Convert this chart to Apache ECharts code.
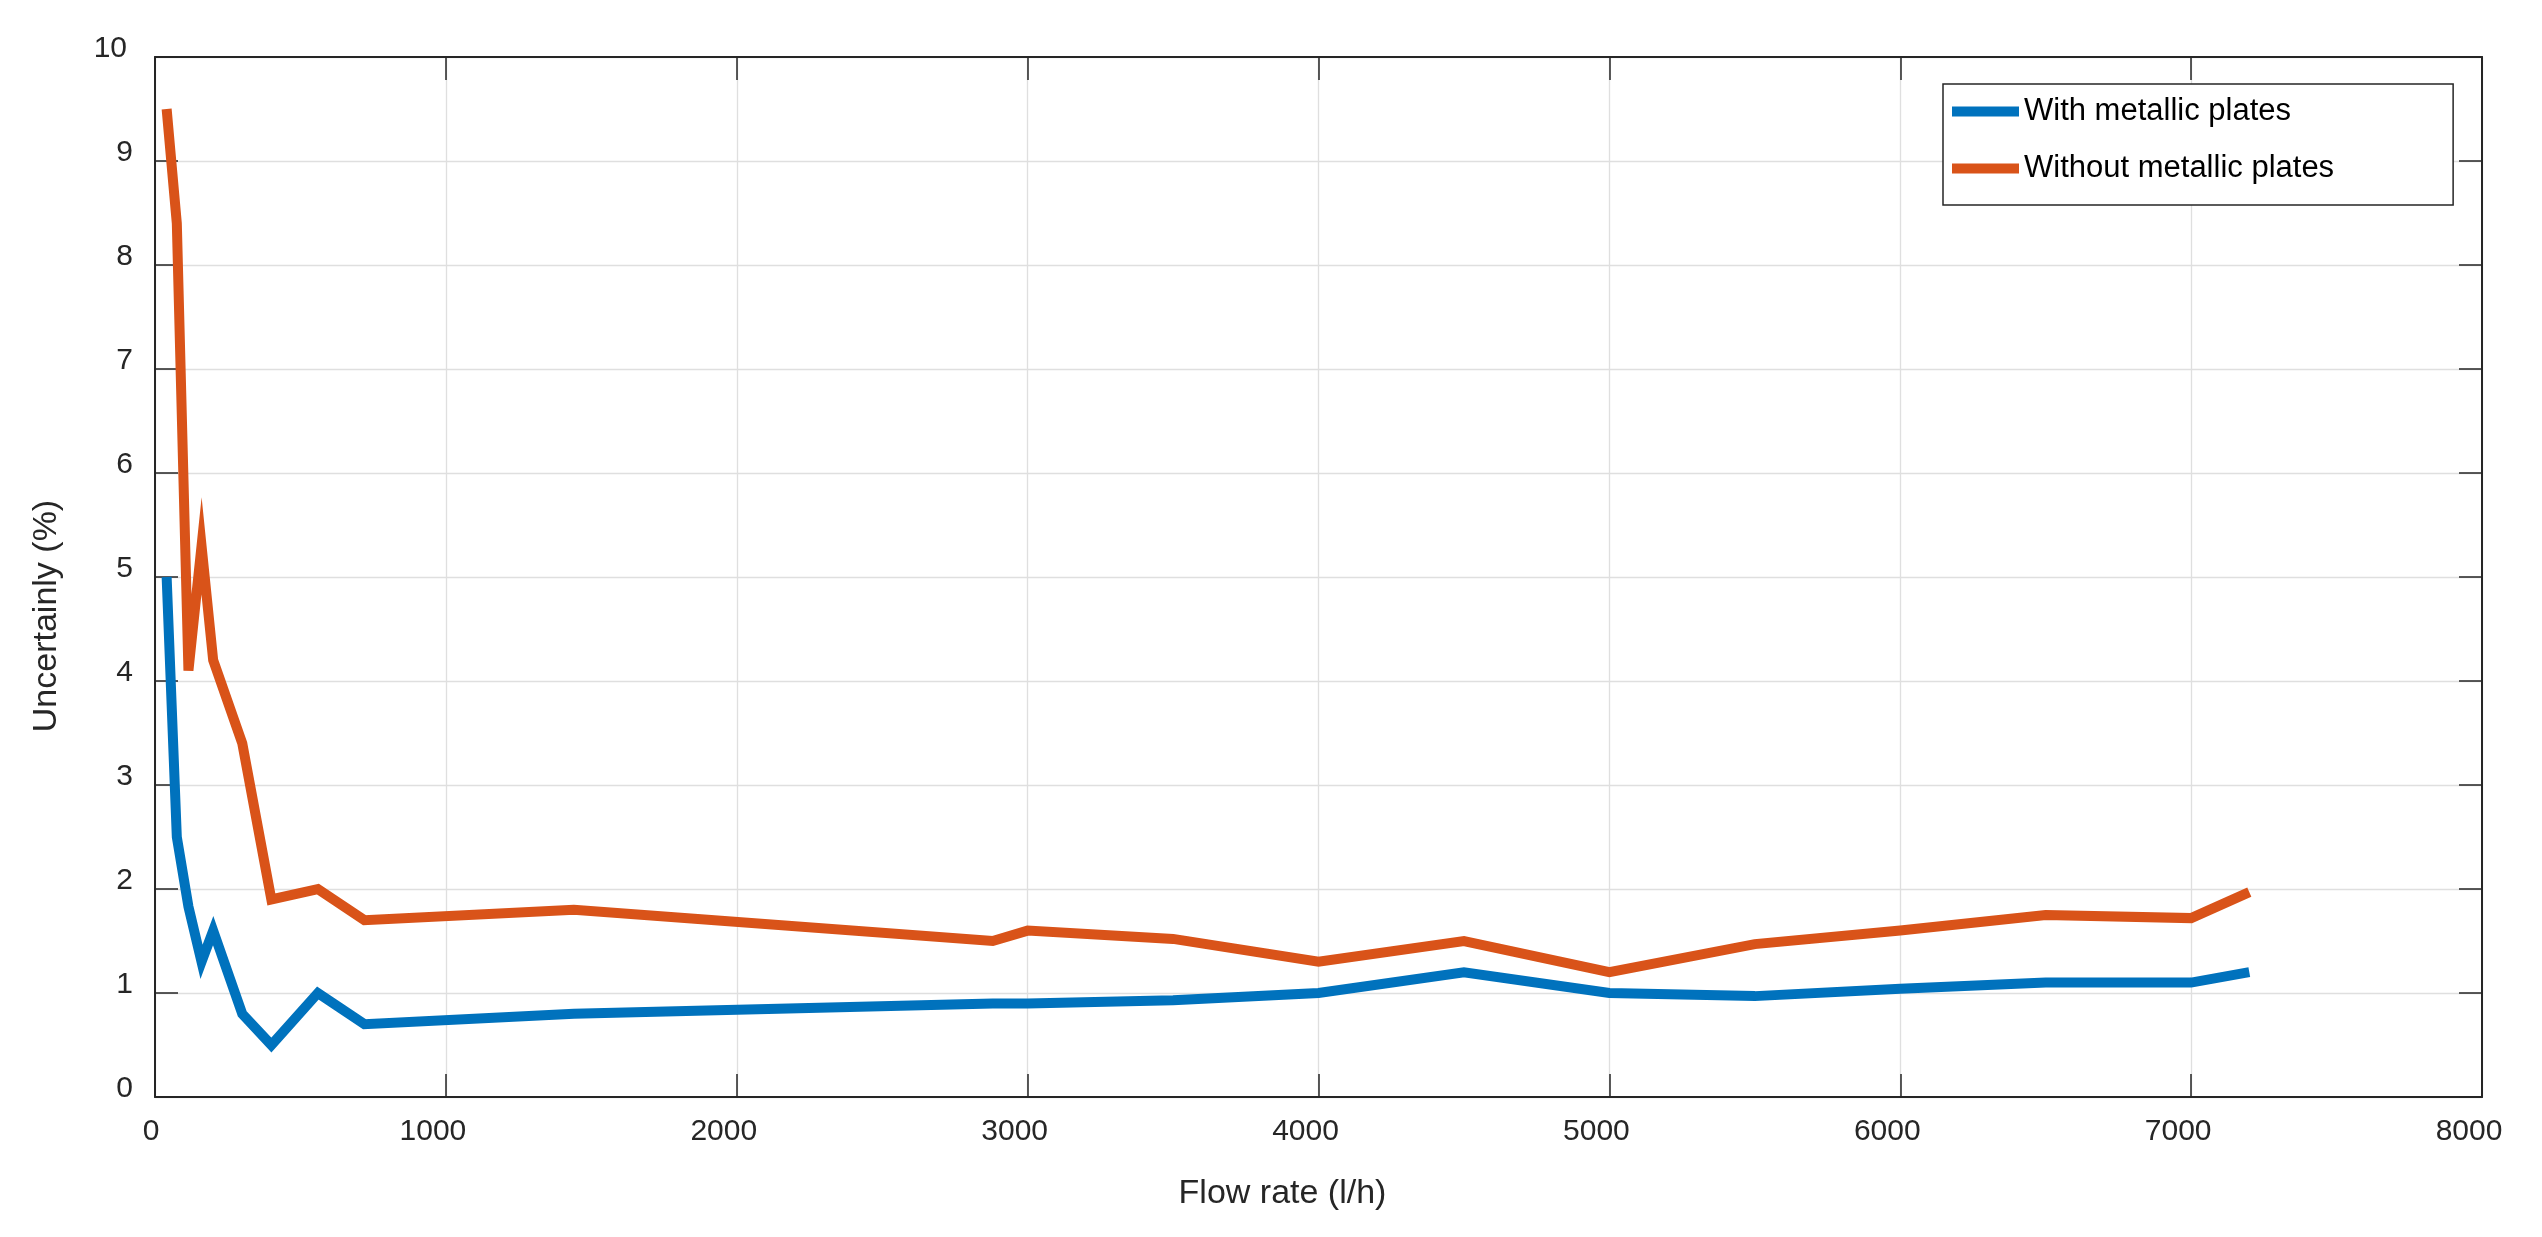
<!DOCTYPE html>
<html>
<head>
<meta charset="utf-8">
<script src="https://cdn.jsdelivr.net/npm/echarts@6/dist/echarts.min.js"></script>
<style>
html,body{margin:0;padding:0;background:#fff;}
#chart{width:2542px;height:1237px;}
</style>
</head>
<body>
<div id="chart"></div>
<script>
// Data
const flowRate = [40, 75, 115, 160, 200, 300, 400, 560, 720, 1440, 2880, 3000, 3500, 4000, 4500, 5000, 5500, 6000, 6500, 7000, 7200];
const withPlates = [5.0, 2.5, 1.83, 1.3, 1.6, 0.8, 0.5, 1.0, 0.7, 0.8, 0.9, 0.9, 0.93, 1.0, 1.2, 1.0, 0.97, 1.04, 1.1, 1.1, 1.2];
const withoutPlates = [9.5, 8.4, 4.1, 5.3, 4.2, 3.4, 1.9, 2.0, 1.7, 1.8, 1.5, 1.6, 1.52, 1.3, 1.5, 1.2, 1.47, 1.6, 1.75, 1.72, 1.97];
const seriesNames = ['With metallic plates', 'Without metallic plates'];
const xTitle = 'Flow rate (l/h)';
const yTitle = 'Uncertainly (%)';

const FONT = "'Liberation Sans', Arial, sans-serif";
const AX = '#262626';

const pairs = (xs, ys) => xs.map((x, i) => [x, ys[i]]);

const chart = echarts.init(document.getElementById('chart'), null, {renderer: 'canvas'});

const baseTick = {show: true, inside: true, length: 23, lineStyle: {color: AX, width: 1.5}};
const baseLine = {show: true, onZero: false, lineStyle: {color: AX, width: 2}};

chart.setOption({
  animation: false,
  backgroundColor: '#fff',
  grid: {left: 155, right: 60, top: 57, bottom: 140, containLabel: false},
  legend: {
    orient: 'vertical',
    left: 1943, top: 84,
    padding: [12, 119, 21, 9],
    itemWidth: 67, itemHeight: 10, itemGap: 26,
    icon: 'rect',
    borderColor: AX, borderWidth: 1.5,
    backgroundColor: '#fff',
    textStyle: {fontSize: 31, fontFamily: FONT, color: '#000', lineHeight: 31},
    data: seriesNames
  },
  xAxis: [{
    type: 'value', min: 0, max: 8000, interval: 1000, position: 'bottom',
    axisLine: baseLine, axisTick: baseTick,
    splitLine: {show: true, lineStyle: {color: '#dfdfdf', width: 1.3}},
    axisLabel: {
      margin: 20, color: AX, fontSize: 30, fontFamily: FONT,
      formatter: v => v === 0 ? '{s|0}' : '{l|' + v + '}',
      rich: {
        s: {fontSize: 30, fontFamily: FONT, color: AX, padding: [0, 8, 0, 0]},
        l: {fontSize: 30, fontFamily: FONT, color: AX, padding: [0, 26, 0, 0]}
      }
    },
    name: xTitle, nameLocation: 'middle', nameGap: 80,
    nameTextStyle: {fontSize: 34, fontFamily: FONT, color: AX, padding: [0, 72, 0, 0]}
  }, {
    type: 'value', min: 0, max: 8000, interval: 1000, position: 'top',
    axisLine: baseLine, axisTick: baseTick,
    axisLabel: {show: false}, splitLine: {show: false}
  }],
  yAxis: [{
    type: 'value', min: 0, max: 10, interval: 1, position: 'left',
    axisLine: baseLine, axisTick: baseTick,
    splitLine: {show: true, lineStyle: {color: '#dfdfdf', width: 1.3}},
    axisLabel: {
      margin: 16, color: AX, fontSize: 30, fontFamily: FONT,
      formatter: v => (String(v).length === 1 ? '{s|' : '{l|') + v + '}',
      rich: {
        s: {fontSize: 30, fontFamily: FONT, color: AX, padding: [0, 6, 16, 0]},
        l: {fontSize: 30, fontFamily: FONT, color: AX, padding: [0, 12, 16, 0]}
      }
    },
    name: yTitle, nameLocation: 'middle', nameGap: 91, nameRotate: 90,
    nameTextStyle: {fontSize: 34, fontFamily: FONT, color: AX, padding: [0, 78, 0, 0]}
  }, {
    type: 'value', min: 0, max: 10, interval: 1, position: 'right',
    axisLine: baseLine, axisTick: baseTick,
    axisLabel: {show: false}, splitLine: {show: false}
  }],
  series: [{
    name: seriesNames[0], type: 'line', xAxisIndex: 0, yAxisIndex: 0,
    data: pairs(flowRate, withPlates),
    showSymbol: false, symbol: 'none',
    lineStyle: {color: '#0072BD', width: 10, cap: 'butt', join: 'miter'},
    itemStyle: {color: '#0072BD'}
  }, {
    name: seriesNames[1], type: 'line', xAxisIndex: 0, yAxisIndex: 0,
    data: pairs(flowRate, withoutPlates),
    showSymbol: false, symbol: 'none',
    lineStyle: {color: '#D95319', width: 10, cap: 'butt', join: 'miter'},
    itemStyle: {color: '#D95319'}
  }]
});
</script>
</body>
</html>
